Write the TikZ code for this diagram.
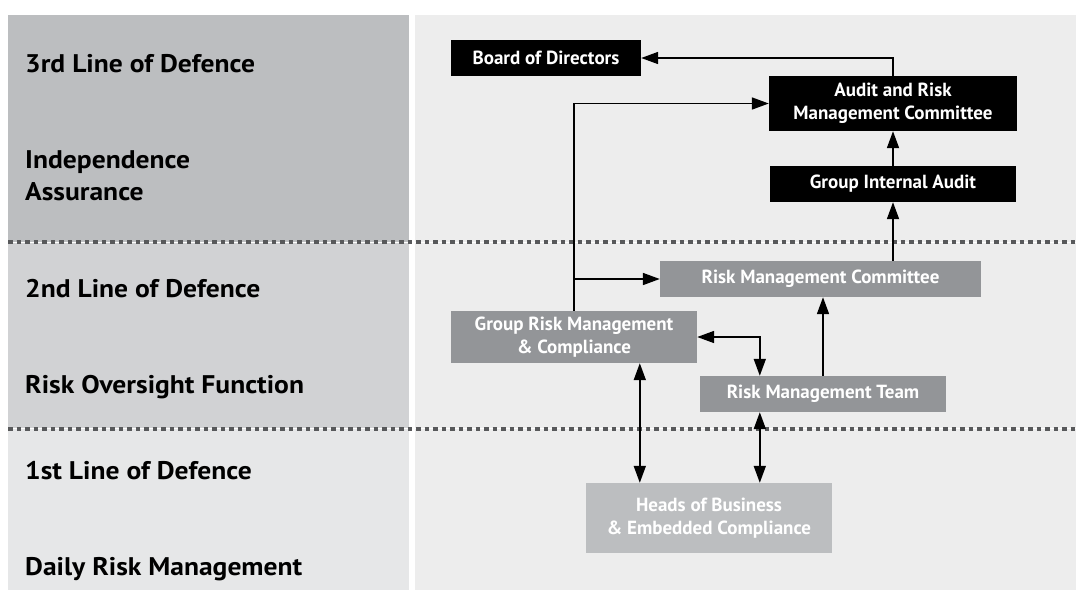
\documentclass[tikz,border=0pt]{standalone}
\usepackage{fontspec}
\setmainfont{PT Sans}
\newfontfamily\lblfont[FakeStretch=1.08]{PT Sans}
\usetikzlibrary{arrows.meta}

\definecolor{topband}{HTML}{BCBEC0}
\definecolor{midband}{HTML}{D1D2D4}
\definecolor{lowband}{HTML}{E6E7E8}
\definecolor{panel}{HTML}{EDEDED}
\definecolor{dots}{HTML}{58595B}
\definecolor{midbox}{HTML}{939598}
\definecolor{lowbox}{HTML}{BCBEC0}

\begin{document}
\begin{tikzpicture}[x=1pt,y=1pt,yscale=-1,xscale=1,
  lbl/.style={anchor=base west,inner sep=0pt,font=\lblfont\fontsize{25.5}{32}\selectfont\bfseries},
  box/.style={inner sep=0pt,text=white,align=center,minimum height=36pt,font=\fontsize{19}{23.5}\selectfont\bfseries},
  topbox/.style={box,fill=black},
  midbox/.style={box,fill=midbox},
  lowbox/.style={box,fill=lowbox},
  arr/.style={line width=1.7pt,-{Triangle[length=17pt,width=12pt]}},
  arrb/.style={line width=1.7pt,{Triangle[length=17pt,width=12pt]}-{Triangle[length=17pt,width=12pt]}},
  dotline/.style={line width=4pt,draw=dots,dash pattern=on 4.5pt off 4pt,preaction={draw=white,solid}}]
\useasboundingbox (0,0) rectangle (1076,590);

%Shape: Rectangle [id:bands]
\fill[topband] (8,15) rectangle (409,242);
\fill[midband] (8,242) rectangle (409,428);
\fill[lowband] (8,428) rectangle (409,590);
%Shape: Rectangle [id:panel]
\fill[panel] (415,15) rectangle (1076,590);

%Straight Lines [id:dotlines]
\draw[dotline] (8,242) -- (1076,242);
\draw[dotline] (8,428.5) -- (1076,428.5);

% Text Node
\node[lbl] (third) at (25,72) {3rd Line of Defence};
% Text Node
\node[lbl,anchor=west,align=left] (indep) at (25,176) {Independence\\Assurance};
% Text Node
\node[lbl] (second) at (25,297) {2nd Line of Defence};
% Text Node
\node[lbl] (oversight) at (25,393) {Risk Oversight Function};
% Text Node
\node[lbl] (first) at (25,479) {1st Line of Defence};
% Text Node
\node[lbl] (daily) at (25,575) {Daily Risk Management};

% Boxes
\node[topbox,minimum width=190pt] (board) at (546,58) {Board of Directors};
\node[topbox,minimum width=248pt,minimum height=55pt] (armc) at (893,103.5) {Audit and Risk\\Management Committee};
\node[topbox,minimum width=246pt] (gia) at (893,184) {Group Internal Audit};
\node[midbox,minimum width=321pt] (rmc) at (820.5,279) {Risk Management Committee};
\node[midbox,minimum width=246pt,minimum height=52pt] (grmc) at (574,337) {Group Risk Management\\\& Compliance};
\node[midbox,minimum width=246pt] (rmt) at (823,394) {Risk Management Team};
\node[lowbox,minimum width=246pt,minimum height=70pt] (heads) at (709,518) {Heads of Business\\\& Embedded Compliance};

% Connectors
\draw[arr] (armc.north) |- (board.east);
\draw[arr] (grmc.north) |- (armc.west);
\draw[arr] (grmc.north |- rmc.west) -- (rmc.west);
\draw[arr] (gia.north) -- (armc.south);
\draw[arr] (gia.south |- rmc.north) -- (gia.south);
\draw[arr] (rmt.north) -- (rmt.north |- rmc.south);
\draw[arrb] (grmc.east) -| ([xshift=60pt]rmt.north west);
\draw[arrb] ([xshift=54pt]heads.north west |- grmc.south) -- ([xshift=54pt]heads.north west);
\draw[arrb] ([xshift=60pt]rmt.south west) -- ([xshift=60pt]rmt.south west |- heads.north);

\end{tikzpicture}
\end{document}
